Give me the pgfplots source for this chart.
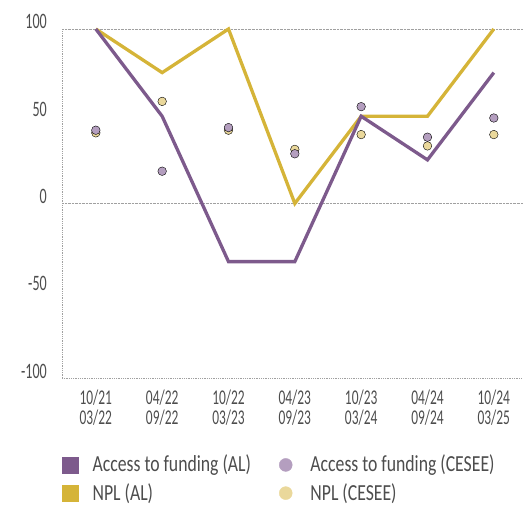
\documentclass[border=0pt]{standalone}
\usepackage{pgfplots}
\pgfplotsset{compat=1.18}
\usepackage{fontspec}
\setmainfont{Carlito}[FakeStretch=0.64]
\newfontfamily\legfont{Carlito}[FakeStretch=0.77]
\definecolor{acal}{HTML}{7D5A8C}
\definecolor{acce}{HTML}{B49EBF}
\definecolor{npal}{HTML}{D5B438}
\definecolor{npce}{HTML}{EAD89B}
\definecolor{txt}{HTML}{4D4D4D}
\definecolor{gridc}{HTML}{A0A0A0}
\pgfplotstableread{
x acal npal acce npce
0 100 100 42 40.5
1 50 75 18.5 58.5
2 -33.3 100 43.5 42
3 -33.3 0 28.5 31
4 50 50 55.5 39.5
5 25 50 38 33
6 75 100 49 39.5
}\data
\begin{document}
\begin{tikzpicture}
\begin{axis}[
  scale only axis, width=461bp, height=349bp,
  xmin=-0.51, xmax=6.44, ymin=-100, ymax=100,
  clip=false,
  axis lines*=left,
  axis line style={gridc, densely dotted, line width=0.8pt},
  tick style={draw=none},
  xtick={0,...,6},
  xticklabels={{10/21\\03/22},{04/22\\09/22},{10/22\\03/23},{04/23\\09/23},{10/23\\03/24},{04/24\\09/24},{10/24\\03/25}},
  xticklabel style={align=center, font=\fontsize{21bp}{19.5bp}\selectfont, text=txt, inner sep=0pt, anchor=north, yshift=-12bp},
  ytick={-100,-50,0,50,100},
  yticklabels={-100,-50,0,50,100},
  yticklabel style={font=\fontsize{22bp}{22bp}\selectfont, text=txt, inner sep=0pt, anchor=base east, xshift=-15bp},
  extra y ticks={0,100},
  extra y tick labels={},
  extra y tick style={grid=major, major grid style={gridc, densely dotted, line width=0.8pt}},
  legend columns=2,
  legend cell align=left,
  legend style={draw=none, fill=none, inner sep=0pt, at={(0,-0.225)}, anchor=north west,
    font=\legfont\fontsize{23bp}{23bp}\selectfont, text=txt,
    nodes={inner sep=0pt, text height=15bp, text depth=4bp, anchor=base west},
    row sep=9bp,
    /tikz/column 1/.style={column sep=14bp},
    /tikz/column 2/.style={column sep=28bp},
    /tikz/column 3/.style={column sep=18bp}},
]
\addlegendimage{legend image code/.code={\fill[acal] (0bp,-1bp) rectangle (16bp,15bp);}}
\addlegendentry{Access to funding (AL)}
\addlegendimage{legend image code/.code={\fill[acce] (6.5bp,7bp) circle (6.5bp);}}
\addlegendentry{Access to funding (CESEE)}
\addlegendimage{legend image code/.code={\fill[npal] (0bp,-1bp) rectangle (16bp,15bp);}}
\addlegendentry{NPL (AL)}
\addlegendimage{legend image code/.code={\fill[npce] (6.5bp,7bp) circle (6.5bp);}}
\addlegendentry{NPL (CESEE)}
\addplot[forget plot, only marks, mark=*, mark size=4.3bp, mark options={draw=none, fill=npce}] table[x=x, y=npce] {\data};
\addplot[forget plot, only marks, mark=*, mark size=4.3bp, mark options={draw=none, fill=acce}] table[x=x, y=acce] {\data};
\addplot[forget plot, npal, line width=3.3bp, line join=miter] table[x=x, y=npal] {\data};
\addplot[forget plot, acal, line width=3.3bp, line join=miter] table[x=x, y=acal] {\data};
\end{axis}
\pgfresetboundingbox
\path (-62bp,-128bp) rectangle (461bp,378bp);
\end{tikzpicture}
\end{document}
